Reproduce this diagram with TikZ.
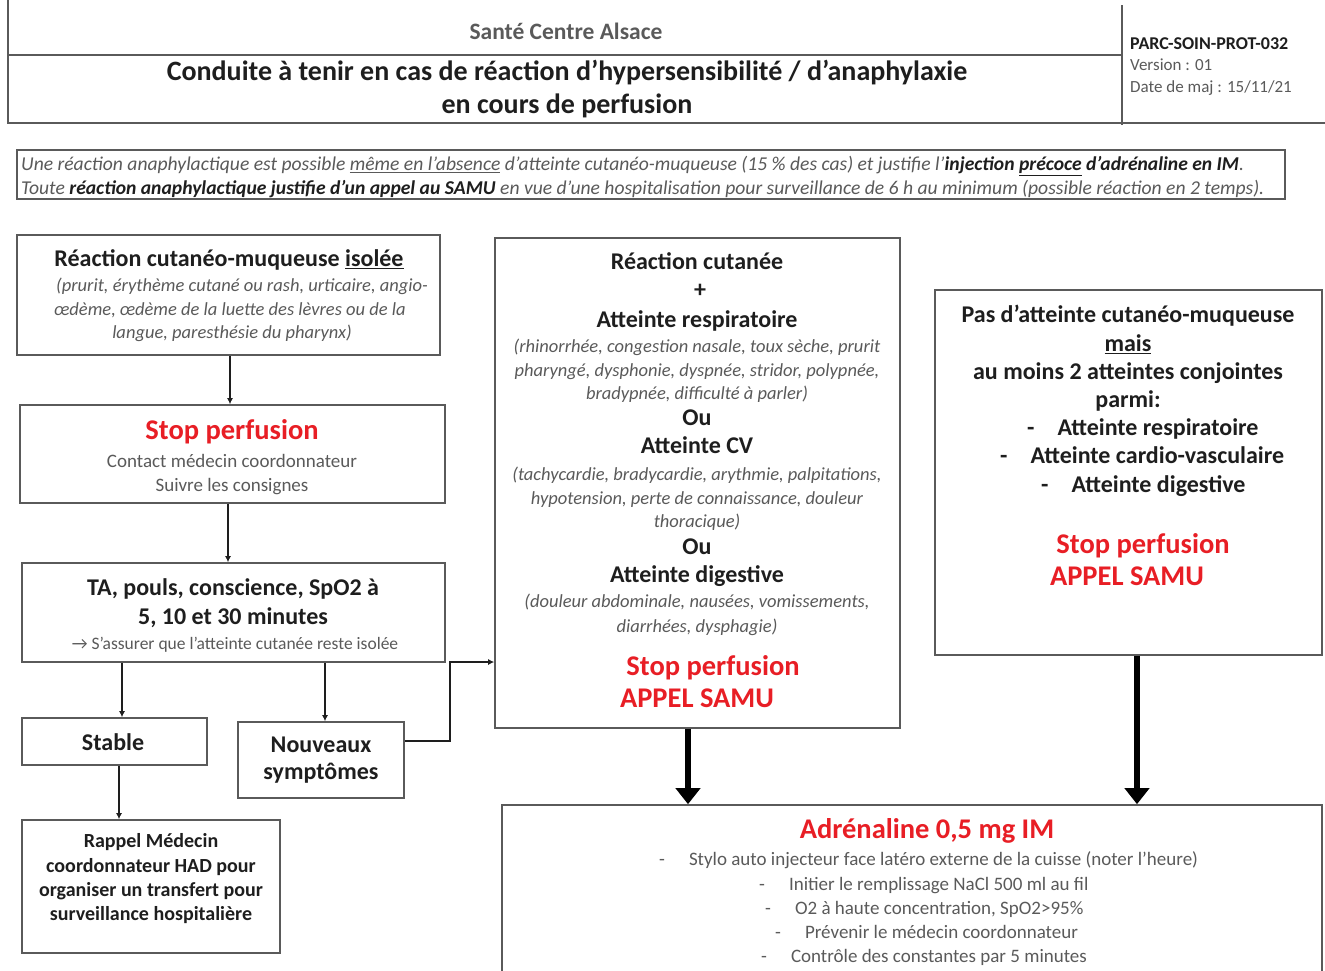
\documentclass[tikz,border=0pt]{standalone}
\usepackage{fontspec}
\setmainfont{Carlito}
\usetikzlibrary{arrows.meta}
\definecolor{redt}{RGB}{232,30,37}
\definecolor{boxc}{RGB}{90,90,90}
\definecolor{grayt}{RGB}{90,90,90}
\definecolor{darkt}{RGB}{30,30,30}
\begin{document}
\begin{tikzpicture}[x=1pt,y=-1pt,
  box/.style={draw=boxc, line width=1.6pt, rectangle, inner sep=0pt},
  tx/.style={inner sep=0pt, anchor=mid, align=center, text=darkt, yshift=-5.5pt},
  hb/.style={tx, font=\fontsize{24}{28}\selectfont\bfseries},
  itx/.style={tx, font=\fontsize{18.5}{22}\selectfont\itshape, text=grayt},
  rd/.style={tx, font=\fontsize{28.5}{33}\selectfont\bfseries, text=redt},
  nm/.style={tx, font=\fontsize{19}{23}\selectfont, text=grayt},
  rb/.style={tx, font=\fontsize{20}{24}\selectfont\bfseries},
  li/.style={tx, anchor=mid west, font=\fontsize{19}{23}\selectfont, text=grayt},
  arr/.style={draw=darkt, line width=1.2pt, -{Latex[length=6pt,width=6pt]}},
  big/.style={draw=black, line width=6pt, -{Triangle[length=16pt,width=24pt]}}]
\useasboundingbox (0,0) rectangle (1325,970);
\fill[white] (0,0) rectangle (1325,970);

% header table
\coordinate (h1) at (8,0);
\coordinate (h2) at (8,123);
\coordinate (h3) at (1122,55);
\coordinate (h4) at (1122,5);
\coordinate (h5) at (1122,125);
\coordinate (h6) at (1325,123);
\draw[boxc, line width=1.6pt] (h1) -- (h2) -- (h6);
\draw[boxc, line width=1.6pt] (h1 |- h3) -- (h3);
\draw[boxc, line width=1.6pt] (h4) -- (h5);
\node[tx, font=\fontsize{23.5}{28}\selectfont\bfseries, text=grayt] (org) at (566,32) {Santé Centre Alsace};
\node[tx, font=\fontsize{28}{33}\selectfont\bfseries] (title1) at (567,73) {Conduite à tenir en cas de réaction d'hypersensibilité / d'anaphylaxie};
\node[tx, font=\fontsize{28}{33}\selectfont\bfseries] (title2) at (567,106) {en cours de perfusion};
\node[tx, anchor=mid west, font=\fontsize{18}{21}\selectfont\bfseries] (code) at (1130,42) {PARC-SOIN-PROT-032};
\node[tx, anchor=mid west, font=\fontsize{17}{20}\selectfont, text=grayt] (vers) at (1130,63) {Version : 01};
\node[tx, anchor=mid west, font=\fontsize{17}{20}\selectfont, text=grayt] (date) at (1130,85) {Date de maj : 15/11/21};

% intro
\node[box, minimum width=1268, minimum height=49] (intro) at (651,174.5) {};
\node[tx, anchor=mid west, font=\fontsize{19.6}{23}\selectfont\itshape, text=grayt] (intro1) at (21,163)
  {Une réaction anaphylactique est possible \underline{même en l'absence} d'atteinte cutanéo-muqueuse (15 \% des cas) et justifie l'\textbf{\textcolor{darkt}{injection \underline{précoce} d'adrénaline en IM}}.};
\node[tx, anchor=mid west, font=\fontsize{19.6}{23}\selectfont\itshape, text=grayt] (intro2) at (21,187)
  {Toute \textbf{\textcolor{darkt}{réaction anaphylactique justifie d'un appel au SAMU}} en vue d'une hospitalisation pour surveillance de 6 h au minimum (possible réaction en 2 temps).};

% left column
\node[box, minimum width=423, minimum height=120] (b1) at (228.5,295) {};
\node[hb] (b1a) at (229,259) {Réaction cutanéo-muqueuse \underline{isolée}};
\node[itx] (b1b) at (242,284) {(prurit, érythème cutané ou rash, urticaire, angio-};
\node[itx] (b1c) at (230,308) {œdème, œdème de la luette des lèvres ou de la};
\node[itx] (b1d) at (232,331) {langue, paresthésie du pharynx)};

\node[box, minimum width=425, minimum height=98] (b2) at (232.5,454) {};
\node[rd] (b2a) at (232,432) {Stop perfusion};
\node[nm] (b2b) at (232,460) {Contact médecin coordonnateur};
\node[nm] (b2c) at (232,484) {Suivre les consignes};

\node[box, minimum width=423, minimum height=99] (b3) at (233.5,612.5) {};
\node[hb] (b3a) at (233,588) {TA, pouls, conscience, SpO2 à};
\node[hb] (b3b) at (233,617) {5, 10 et 30 minutes};
\node[nm, font=\fontsize{17.5}{21}\selectfont] (b3c) at (235,642) {→ S'assurer que l'atteinte cutanée reste isolée};

\node[box, minimum width=185, minimum height=47] (stable) at (114.5,741.5) {};
\node[hb] (stablet) at (113,743) {Stable};
\node[box, minimum width=166, minimum height=76] (nouv) at (321,760) {};
\node[hb] (nouva) at (321,745) {Nouveaux};
\node[hb] (nouvb) at (321,772) {symptômes};

\node[box, minimum width=258, minimum height=133] (rappel) at (151,886.5) {};
\node[rb] (rp1) at (151,840) {Rappel Médecin};
\node[rb] (rp2) at (151,865) {coordonnateur HAD pour};
\node[rb] (rp3) at (151,889) {organiser un transfert pour};
\node[rb] (rp4) at (151,913) {surveillance hospitalière};

% middle column
\node[box, minimum width=405, minimum height=490] (mid) at (697.5,483) {};
\node[hb] (m1) at (697,262) {Réaction cutanée};
\node[hb] (m2) at (700,290) {+};
\node[hb] (m3) at (697,320) {Atteinte respiratoire};
\node[itx] (m4) at (697,345) {(rhinorrhée, congestion nasale, toux sèche, prurit};
\node[itx] (m5) at (697,369) {pharyngé, dysphonie, dyspnée, stridor, polypnée,};
\node[itx] (m6) at (697,392) {bradypnée, difficulté à parler)};
\node[hb] (m7) at (697,418) {Ou};
\node[hb] (m8) at (697,446) {Atteinte CV};
\node[itx] (m9) at (697,473) {(tachycardie, bradycardie, arythmie, palpitations,};
\node[itx] (m10) at (697,497) {hypotension, perte de connaissance, douleur};
\node[itx] (m11) at (697,520) {thoracique)};
\node[hb] (m12) at (697,547) {Ou};
\node[hb] (m13) at (697,575) {Atteinte digestive};
\node[itx] (m14) at (697,600) {(douleur abdominale, nausées, vomissements,};
\node[itx] (m15) at (697,625) {diarrhées, dysphagie)};
\node[rd] (m16) at (713,668) {Stop perfusion};
\node[rd] (m17) at (697,700) {APPEL SAMU};

% right column
\node[box, minimum width=387, minimum height=365] (right) at (1128.5,472.5) {};
\node[hb] (r1) at (1128,315) {Pas d'atteinte cutanéo-muqueuse};
\node[hb] (r2) at (1128,344) {\underline{mais}};
\node[hb] (r3) at (1128,372) {au moins 2 atteintes conjointes};
\node[hb] (r4) at (1128,400) {parmi:};
\node[hb, anchor=mid west] (r5) at (1027,428) {-\hspace{23pt}Atteinte respiratoire};
\node[hb, anchor=mid west] (r6) at (1000,456) {-\hspace{23pt}Atteinte cardio-vasculaire};
\node[hb, anchor=mid west] (r7) at (1041,485) {-\hspace{23pt}Atteinte digestive};
\node[rd] (r8) at (1143,546) {Stop perfusion};
\node[rd] (r9) at (1127,578) {APPEL SAMU};

% bottom box
\node[box, minimum width=820, minimum height=190] (bot) at (912,900) {};
\node[rd] (a0) at (927,831) {Adrénaline 0,5 mg IM};
\node[li] (a1) at (659,858) {-\hspace{24pt}Stylo auto injecteur face latéro externe de la cuisse (noter l'heure)};
\node[li] (a2) at (759,883) {-\hspace{24pt}Initier le remplissage NaCl 500 ml au fil};
\node[li] (a3) at (765,907) {-\hspace{24pt}O2 à haute concentration, SpO2>95\%};
\node[li] (a4) at (775,931) {-\hspace{24pt}Prévenir le médecin coordonnateur};
\node[li] (a5) at (761,955) {-\hspace{24pt}Contrôle des constantes par 5 minutes};

% connectors
\draw[arr] ([xshift=1.5]b1.south) -- ([xshift=1.5]b1.south |- b2.north);
\draw[arr] ([xshift=-4.5]b2.south) -- ([xshift=-4.5]b2.south |- b3.north);
\draw[arr] ([xshift=7.5]stable.north |- b3.south) -- ([xshift=7.5]stable.north);
\draw[arr] ([xshift=4]nouv.north |- b3.south) -- ([xshift=4]nouv.north);
\draw[arr] ([xshift=4.5]stable.south) -- ([xshift=4.5]stable.south |- rappel.north);
\coordinate (jn) at (450,662);
\draw[arr] ([yshift=19]nouv.east) -| (jn) -- (jn -| mid.west);
\draw[big] ([xshift=-9.5]mid.south) -- ([xshift=-9.5]mid.south |- bot.north);
\draw[big] ([xshift=8.5]right.south) -- ([xshift=8.5]right.south |- bot.north);
\end{tikzpicture}
\end{document}
